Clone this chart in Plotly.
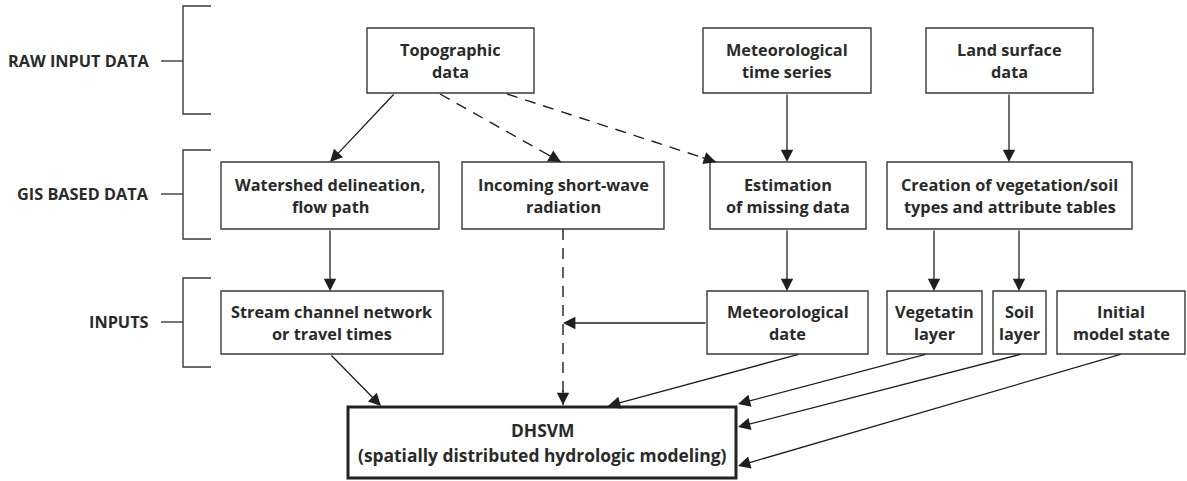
import plotly.graph_objects as go

# ---- content ----
level_labels = ["RAW INPUT DATA", "GIS BASED DATA", "INPUTS"]

box_names = ["topo", "meteo_ts", "land", "watershed", "incoming", "estimation",
             "creation", "stream", "meteo_date", "veg", "soil", "init", "dhsvm"]
box_texts = [
    ["Topographic", "data"],
    ["Meteorological", "time series"],
    ["Land surface", "data"],
    ["Watershed delineation,", "flow path"],
    ["Incoming short-wave", "radiation"],
    ["Estimation", "of missing data"],
    ["Creation of vegetation/soil", "types and attribute tables"],
    ["Stream channel network", "or travel times"],
    ["Meteorological", "date"],
    ["Vegetatin", "layer"],
    ["Soil", "layer"],
    ["Initial", "model state"],
    ["DHSVM", "(spatially distributed hydrologic modeling)"],
]

# ---- layout geometry (pixel coordinates) ----
box_geom = {
    "topo": (367, 534, 28, 93),
    "meteo_ts": (703, 871, 28, 93),
    "land": (926, 1093, 28, 93),
    "watershed": (221, 439, 162, 229),
    "incoming": (462, 664, 162, 229),
    "estimation": (710, 866, 162, 229),
    "creation": (887, 1132, 162, 229),
    "stream": (221, 443, 291, 354),
    "meteo_date": (707, 868, 291, 354),
    "veg": (887, 982, 291, 354),
    "soil": (993, 1046, 291, 354),
    "init": (1057, 1185, 291, 354),
    "dhsvm": (348, 736, 407, 478),
}
level_geom = [(61, 6, 114), (194, 150, 239), (322, 278, 367)]

solid_arrows = [
    ((395, 93), (330, 162)),
    ((787, 93), (787, 162)),
    ((1009, 93), (1009, 162)),
    ((330, 229), (330, 291)),
    ((787, 229), (787, 291)),
    ((934, 229), (934, 291)),
    ((1019, 229), (1019, 291)),
    ((707, 323), (563, 323)),
    ((330, 354), (381, 406)),
    ((800, 354), (608, 406)),
    ((927, 354), (738, 404)),
    ((1022, 354), (738, 427)),
    ((1122, 354), (738, 466)),
]
dashed_arrows = [
    ((440, 94), (561, 162)),
    ((507, 94), (716, 162)),
    ((563, 229), (563, 405)),
]

W, H = 1187, 481
TXT = "#2a2a2a"
LINE = "#3a3a3a"
ARR = "#1f1f1f"
FONT = "Open Sans"
FS = 16.3

fig = go.Figure()
shapes = []
annotations = []

# boxes
for name, lines in zip(box_names, box_texts):
    x0, x1, y0, y1 = box_geom[name]
    thick = name == "dhsvm"
    shapes.append(dict(type="rect", x0=x0, x1=x1, y0=y0, y1=y1,
                       line=dict(color="#222222" if thick else LINE, width=3 if thick else 1.4),
                       fillcolor="white", layer="above"))
    cx = (x0 + x1) / 2
    cy = (y0 + y1) / 2
    sp = 12.5 if thick else 11
    for i, t in enumerate(lines):
        annotations.append(dict(x=cx, y=cy + (i - 0.5) * 2 * sp, text=t, showarrow=False,
                                xanchor="center", yanchor="middle",
                                font=dict(family=FONT, size=17.4 if thick else FS,
                                          color=TXT, weight="bold")))

# level labels with brackets
for lab, (yc, yt, yb) in zip(level_labels, level_geom):
    annotations.append(dict(x=151, y=yc, text=lab, showarrow=False, xanchor="right",
                            yanchor="middle",
                            font=dict(family=FONT, size=FS, color=TXT, weight="bold")))
    shapes.append(dict(type="line", x0=161, x1=183, y0=yc, y1=yc, line=dict(color=LINE, width=1.4)))
    shapes.append(dict(type="path", path=f"M 211 {yt} L 183 {yt} L 183 {yb} L 211 {yb}",
                       line=dict(color=LINE, width=1.4)))

# solid arrows
for (tx, ty), (hx, hy) in solid_arrows:
    annotations.append(dict(x=hx, y=hy, ax=tx, ay=ty, xref="x", yref="y", axref="x", ayref="y",
                            text="", showarrow=True, arrowhead=2, arrowsize=1.9,
                            arrowwidth=1.3, arrowcolor=ARR, standoff=0))

# dashed arrows: dashed line + short arrowhead
for (tx, ty), (hx, hy) in dashed_arrows:
    shapes.append(dict(type="line", x0=tx, y0=ty, x1=hx, y1=hy,
                       line=dict(color=ARR, width=1.4, dash="11px,8px")))
    dx, dy = hx - tx, hy - ty
    L = (dx ** 2 + dy ** 2) ** 0.5
    annotations.append(dict(x=hx, y=hy, ax=hx - dx / L * 16, ay=hy - dy / L * 16,
                            xref="x", yref="y", axref="x", ayref="y",
                            text="", showarrow=True, arrowhead=2, arrowsize=1.9,
                            arrowwidth=1.3, arrowcolor=ARR, standoff=0))

fig.update_layout(
    width=W, height=H, margin=dict(l=0, r=0, t=0, b=0),
    paper_bgcolor="white", plot_bgcolor="white",
    xaxis=dict(range=[0, W], visible=False, fixedrange=True),
    yaxis=dict(range=[H, 0], visible=False, fixedrange=True),
    shapes=shapes, annotations=annotations, showlegend=False,
)
fig.write_html("out.html", config={"displayModeBar": False},
               post_script="document.body.style.margin='0';document.body.style.overflow='hidden';")
